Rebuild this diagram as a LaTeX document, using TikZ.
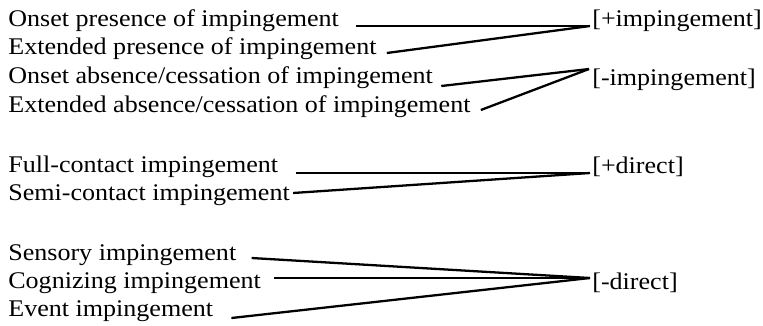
\documentclass[tikz,border=0pt]{standalone}
\usepackage{fontspec}
\setmainfont{Liberation Serif}[FakeStretch=1.09]
\usetikzlibrary{calc}
\tikzset{
    % Node styles
    featlabel/.style={
        inner sep=0pt,
        anchor=base west,
        font=\fontsize{13.6}{15}\selectfont
    },
    featvalue/.style={
        inner sep=0pt,
        anchor=base west,
        font=\fontsize{13.6}{15}\selectfont
    },
    % Connector style
    featline/.style={
        line width=1.3pt,
        black
    }
}
\begin{document}
\begin{tikzpicture}[x=0.02cm, y=-0.02cm]
    \useasboundingbox (0,0) rectangle (763,325);

    % Impingement group
    \node[featlabel] (onsetpres) at (8,26) {Onset presence of impingement};
    \node[featlabel] (extpres) at (8,54) {Extended presence of impingement};
    \node[featlabel] (onsetabs) at (8,83) {Onset absence/cessation of impingement};
    \node[featlabel] (extabs) at (8,112) {Extended absence/cessation of impingement};

    \node[featvalue] (plusimp) at (592,26) {[+impingement]};
    \node[featvalue] (minusimp) at (592,85) {[-impingement]};

    \draw[featline] ([shift={(17,0)}]onsetpres.base east) -- ([shift={(-2,0)}]plusimp.base west);
    \draw[featline] ([shift={(10,-1)}]extpres.base east) -- ([shift={(-2,0)}]plusimp.base west);
    \draw[featline] ([shift={(8,3)}]onsetabs.base east) -- ([shift={(-3,-16)}]minusimp.base west);
    \draw[featline] ([shift={(10,-2)}]extabs.base east) -- ([shift={(-3,-16)}]minusimp.base west);

    % Contact group
    \node[featlabel] (fullcontact) at (8,172) {Full-contact impingement};
    \node[featlabel] (semicontact) at (8,200) {Semi-contact impingement};

    \node[featvalue] (plusdir) at (592,173) {[+direct]};

    \draw[featline] ([shift={(17,1)}]fullcontact.base east) -- ([shift={(-2,0)}]plusdir.base west);
    \draw[featline] ([shift={(3,-7)}]semicontact.base east) -- ([shift={(-2,0)}]plusdir.base west);

    % Indirect group
    \node[featlabel] (sensory) at (8,260) {Sensory impingement};
    \node[featlabel] (cognizing) at (8,288) {Cognizing impingement};
    \node[featlabel] (event) at (8,316) {Event impingement};

    \node[featvalue] (minusdir) at (592,289) {[-direct]};

    \draw[featline] ([shift={(15,-2)}]sensory.base east) -- ([shift={(-2,-11)}]minusdir.base west);
    \draw[featline] ([shift={(13,-10)}]cognizing.base east) -- ([shift={(-2,-11)}]minusdir.base west);
    \draw[featline] ([shift={(18,2)}]event.base east) -- ([shift={(-2,-11)}]minusdir.base west);
\end{tikzpicture}
\end{document}
